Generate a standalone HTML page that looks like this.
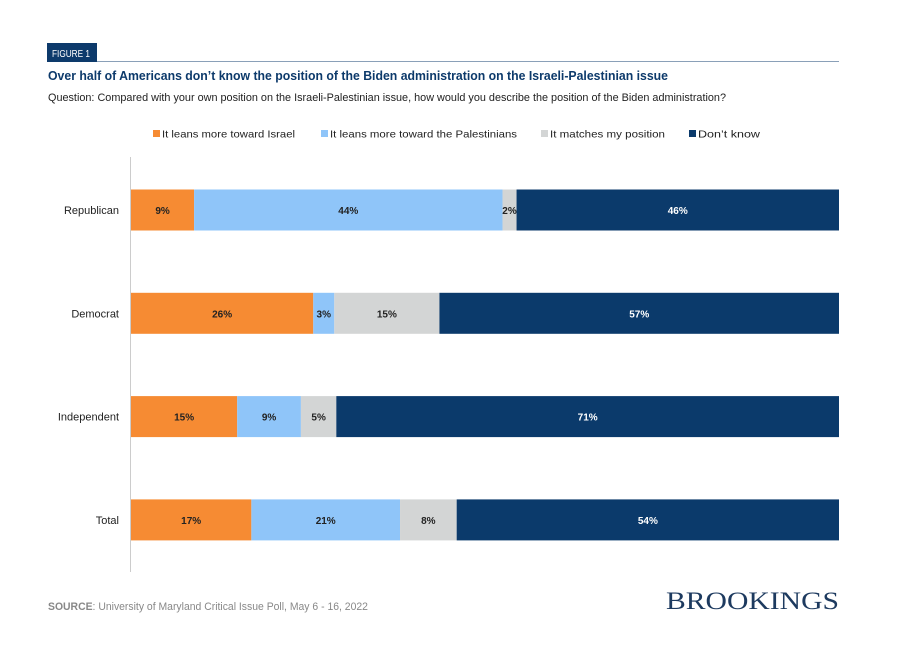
<!DOCTYPE html>
<html><head><meta charset="utf-8"><style>
body{margin:0;background:#fff;}
svg{display:block;font-family:"Liberation Sans",sans-serif;}
</style></head><body>
<svg id="c" width="904" height="668">
<rect x="47" y="43" width="50" height="19" fill="#0d3a6b"/>
<text x="52" y="57" font-size="10" fill="#fff" textLength="38" lengthAdjust="spacingAndGlyphs">FIGURE 1</text>
<line x1="97" y1="61.5" x2="839" y2="61.5" stroke="#8aa0b8" stroke-width="1"/>
<text x="48" y="80" font-size="13" font-weight="bold" fill="#0d3a6b" textLength="620" lengthAdjust="spacingAndGlyphs">Over half of Americans don’t know the position of the Biden administration on the Israeli-Palestinian issue</text>
<text x="48" y="101" font-size="11" fill="#222" textLength="678" lengthAdjust="spacingAndGlyphs">Question: Compared with your own position on the Israeli-Palestinian issue, how would you describe the position of the Biden administration?</text>
<g id="legend"></g>
<line x1="130.5" y1="157" x2="130.5" y2="572" stroke="#ccc"/>
<g id="bars"></g>
<text x="48" y="610" font-size="11" fill="#888" textLength="320" lengthAdjust="spacingAndGlyphs"><tspan font-weight="bold">SOURCE</tspan>: University of Maryland Critical Issue Poll, May 6 - 16, 2022</text>
<text x="839" y="609" font-size="25" text-anchor="end" fill="#1d3a5f" font-family="Liberation Serif,serif" textLength="173" lengthAdjust="spacingAndGlyphs">BROOKINGS</text>
</svg>
<script>
const categories=["Republican","Democrat","Independent","Total"];
const seriesNames=["It leans more toward Israel","It leans more toward the Palestinians","It matches my position","Don’t know"];
const israel=[9,26,15,17];
const palestinians=[44,3,9,21];
const matches=[2,15,5,8];
const dontKnow=[46,57,71,54];
const colors=["#f68b33","#8fc5f9","#d3d5d5","#0b3a6b"];
const ns="http://www.w3.org/2000/svg";
const bars=document.getElementById('bars'),legend=document.getElementById('legend');
const x0=131,x1=839,rowY0=210,rowStep=103.3,barH=41;
function mk(t,a,p){const e=document.createElementNS(ns,t);for(const k in a)e.setAttribute(k,a[k]);p.appendChild(e);return e;}
const series=[israel,palestinians,matches,dontKnow];
const legX=[153,321,541,689],legW=[133,187,115,62];
seriesNames.forEach((n,i)=>{
 const r=mk('rect',{x:legX[i],y:130,width:7,height:7,fill:colors[i]},legend);
 
 
 const t=mk('text',{x:legX[i]+9,y:137.5,'font-size':10.5,fill:'#222',textLength:legW[i],lengthAdjust:'spacingAndGlyphs'},legend);
 t.textContent=n;
 
 
});
categories.forEach((c,j)=>{
 const cy=rowY0+j*rowStep;
 const lab=mk('text',{x:119,y:cy+4,'font-size':11,fill:'#222','text-anchor':'end'},bars);
 lab.textContent=c;
 
 
 let sum=0;series.forEach(s=>sum+=s[j]);
 let x=x0;
 series.forEach((s,i)=>{
  const w=(x1-x0)*s[j]/sum;
  const r=mk('rect',{x:x,y:cy-barH/2,width:w,height:barH,fill:colors[i]},bars);
  
  
  const t=mk('text',{x:x+w/2,y:cy+4,'font-size':10,'font-weight':'bold','text-anchor':'middle',fill:i==3?'#fff':'#222'},bars);
  t.textContent=s[j]+'%';
  
  
  x+=w;
 });
});
</script>
</body></html>
